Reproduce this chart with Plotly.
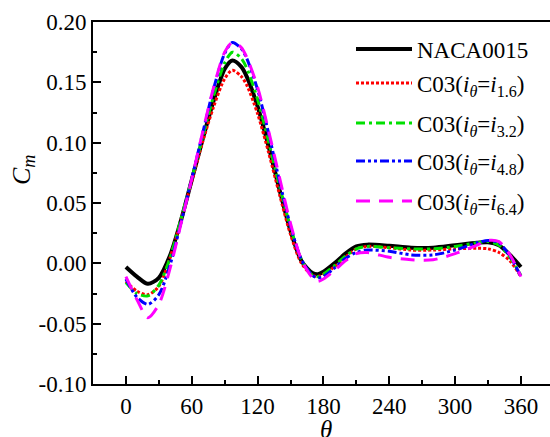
import plotly.graph_objects as go

theta = [0, 10, 20, 30, 40, 50, 60, 70, 80, 90, 97, 105, 110, 120, 130, 140, 150, 160, 170, 175, 180, 190, 200, 210, 220, 240, 260, 280, 300, 320, 330, 340, 350, 360]

naca0015 = [-0.003, -0.011, -0.017, -0.012, 0.006, 0.035, 0.069, 0.103, 0.135, 0.161, 0.168, 0.163, 0.155, 0.130, 0.097, 0.061, 0.027, 0.002, -0.008, -0.009, -0.007, 0.000, 0.008, 0.014, 0.0155, 0.0145, 0.013, 0.013, 0.015, 0.017, 0.0175, 0.015, 0.007, -0.003]
c03_16 = [-0.015, -0.023, -0.026, -0.019, 0.004, 0.035, 0.068, 0.101, 0.130, 0.153, 0.160, 0.155, 0.148, 0.124, 0.092, 0.057, 0.024, 0.000, -0.010, -0.011, -0.009, -0.003, 0.005, 0.012, 0.014, 0.013, 0.011, 0.011, 0.012, 0.0125, 0.012, 0.009, 0.002, -0.011]
c03_32 = [-0.016, -0.025, -0.027, -0.018, 0.004, 0.036, 0.070, 0.105, 0.139, 0.166, 0.175, 0.170, 0.162, 0.136, 0.101, 0.064, 0.030, 0.003, -0.010, -0.011, -0.009, -0.002, 0.006, 0.012, 0.014, 0.013, 0.012, 0.012, 0.014, 0.017, 0.018, 0.015, 0.005, -0.010]
c03_48 = [-0.013, -0.028, -0.034, -0.026, -0.002, 0.033, 0.070, 0.108, 0.145, 0.174, 0.183, 0.178, 0.170, 0.144, 0.108, 0.068, 0.031, 0.003, -0.010, -0.012, -0.011, -0.004, 0.004, 0.009, 0.011, 0.010, 0.007, 0.007, 0.011, 0.017, 0.019, 0.017, 0.006, -0.011]
c03_64 = [-0.011, -0.030, -0.045, -0.034, -0.005, 0.032, 0.070, 0.109, 0.146, 0.175, 0.183, 0.179, 0.171, 0.146, 0.110, 0.071, 0.033, 0.003, -0.012, -0.015, -0.013, -0.006, 0.002, 0.008, 0.009, 0.005, 0.003, 0.003, 0.008, 0.015, 0.019, 0.018, 0.007, -0.011]

x_ticks = [0, 60, 120, 180, 240, 300, 360]
y_ticks = [-0.10, -0.05, 0.0, 0.05, 0.10, 0.15, 0.20]
y_ticktext = ["-0.10", "-0.05", "0.00", "0.05", "0.10", "0.15", "0.20"]

names = [
    "NACA0015",
    "C03(<i>i</i><sub><i>θ</i></sub>=<i>i</i><sub>1.6</sub>)",
    "C03(<i>i</i><sub><i>θ</i></sub>=<i>i</i><sub>3.2</sub>)",
    "C03(<i>i</i><sub><i>θ</i></sub>=<i>i</i><sub>4.8</sub>)",
    "C03(<i>i</i><sub><i>θ</i></sub>=<i>i</i><sub>6.4</sub>)",
]
series = [naca0015, c03_16, c03_32, c03_48, c03_64]
colors = ["#000000", "#ff0000", "#00e000", "#0000ff", "#ff00ff"]
dashes = ["solid", "3px,2px", "9px,4px,3px,4px", "9px,3px,3px,3px,3px,3px", "14px,9px"]
widths = [4, 3, 3, 3, 3]

W, H = 550, 437
ML, MT, MB = 93, 22, 53
PH = H - MT - MB
PW = W - ML

def py(px):
    return 1 - (px - MT) / PH

def pxx(px):
    return (px - ML) / PW

font = "Liberation Serif, Times New Roman, serif"
legend_rows_px = [49, 83, 123, 161, 201]
legend_ids = ["legend", "legend2", "legend3", "legend4", "legend5"]

fig = go.Figure()
for nm, ys, c, d, w, lid in zip(names, series, colors, dashes, widths, legend_ids):
    fig.add_trace(go.Scatter(x=theta, y=ys, mode="lines", name=nm, legend=lid,
                             line=dict(color=c, dash=d, width=w, shape="spline", smoothing=0.8)))

layout_legends = {}
for lid, rpx in zip(legend_ids, legend_rows_px):
    layout_legends[lid] = dict(x=pxx(351), y=py(rpx - 21.5), xanchor="left", yanchor="top",
                               bgcolor="rgba(0,0,0,0)", itemwidth=56,
                               font=dict(family=font, size=23, color="black"))

fig.update_layout(
    width=W, height=H,
    margin=dict(l=ML, r=0, t=MT, b=MB),
    paper_bgcolor="white", plot_bgcolor="white",
    font=dict(family=font, size=23, color="black"),
    showlegend=True,
    xaxis=dict(range=[-30, 386.5], tickvals=x_ticks,
               ticks="inside", ticklen=8, tickwidth=2, tickcolor="black",
               minor=dict(tickvals=[30, 90, 150, 210, 270, 330], ticks="inside", ticklen=4, tickwidth=2, tickcolor="black"),
               showline=True, linecolor="black", linewidth=2, mirror=True,
               showgrid=False, zeroline=False, ticklabelstandoff=0),
    yaxis=dict(range=[-0.10, 0.20], tickvals=y_ticks, ticktext=y_ticktext,
               ticks="inside", ticklen=8, tickwidth=2, tickcolor="black",
               minor=dict(tickvals=[-0.075, -0.025, 0.025, 0.075, 0.125, 0.175], ticks="inside", ticklen=4, tickwidth=2, tickcolor="black"),
               showline=True, linecolor="black", linewidth=2, mirror=False,
               showgrid=False, zeroline=False),
    annotations=[
        dict(text="<i>C<sub>m</sub></i>", xref="paper", yref="paper", x=pxx(23), y=py(170),
             xanchor="center", yanchor="middle", textangle=-90, showarrow=False,
             font=dict(family=font, size=26, color="black")),
        dict(text="<i>θ</i>", xref="paper", yref="paper", x=pxx(326), y=py(429),
             xanchor="center", yanchor="middle", showarrow=False,
             font=dict(family=font, size=25, color="black")),
    ],
    **layout_legends,
)
fig.write_html("out.html")
